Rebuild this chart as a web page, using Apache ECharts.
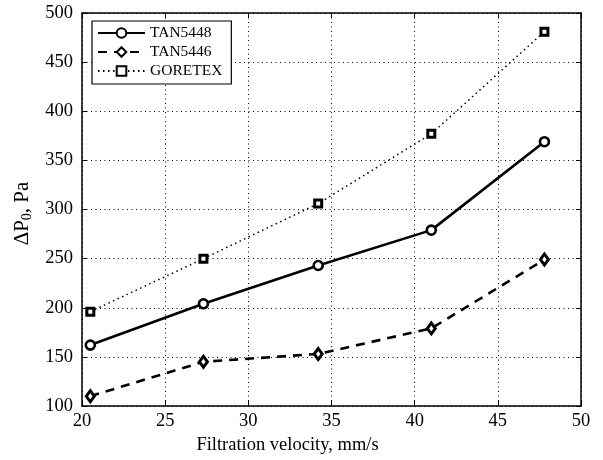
<!DOCTYPE html>
<html><head><meta charset="utf-8">
<script src="https://cdn.jsdelivr.net/npm/echarts@6/dist/echarts.min.js"></script>
<style>html,body{margin:0;padding:0;background:#fff}#c{width:603px;height:460px}</style>
</head><body><div id="c"></div>
<script>
const velocity = [20.5, 27.3, 34.2, 41.0, 47.8];
const tan5448 = [162, 204, 243, 279, 369];
const tan5446 = [110, 145, 153, 179, 249];
const goretex = [196, 250, 306, 377, 481];
const seriesNames = ['TAN5448', 'TAN5446', 'GORETEX'];

const font = 'Liberation Serif, Times New Roman, serif';
const pair = arr => velocity.map((v, i) => [v, arr[i]]);
const chart = echarts.init(document.getElementById('c'));
const axisCommon = {
  axisLine: {show: true, onZero: false, lineStyle: {color: '#000', width: 1.5}},
  axisTick: {show: true, inside: true, length: 5, lineStyle: {color: '#000'}},
};
chart.setOption({
  animation: false,
  backgroundColor: '#fff',
  grid: {left: 82, right: 22, top: 13, bottom: 54},
  legend: {
    left: 92, top: 21, orient: 'vertical',
    padding: [4, 9, 5, 5], itemGap: 3, itemWidth: 47, itemHeight: 12,
    borderColor: '#000', borderWidth: 1.2, backgroundColor: '#fff',
    textStyle: {fontFamily: font, fontSize: 15.5, color: '#000'},
    data: seriesNames
  },
  xAxis: [{
    type: 'value', min: 20, max: 50, interval: 5,
    ...axisCommon,
    axisLabel: {fontFamily: font, fontSize: 18.5, color: '#000', margin: 6},
    splitLine: {show: true, lineStyle: {color: '#000', type: [1, 3.5], width: 1}},
    name: 'Filtration velocity, mm/s', nameLocation: 'middle', nameGap: 30,
    nameTextStyle: {fontFamily: font, fontSize: 18.5, color: '#000', padding: [0, 88, 0, 0]}
  }, {
    type: 'value', min: 20, max: 50, interval: 5, position: 'top',
    ...axisCommon, axisLabel: {show: false}, splitLine: {show: false}
  }],
  yAxis: [{
    type: 'value', min: 100, max: 500, interval: 50,
    ...axisCommon,
    axisLabel: {fontFamily: font, fontSize: 18.5, color: '#000', margin: 9},
    splitLine: {show: true, lineStyle: {color: '#000', type: [1, 3.5], width: 1}},
    name: '{a|ΔP}{s|0}{a|, Pa}', nameLocation: 'middle', nameGap: 47, nameRotate: 90,
    nameTextStyle: {padding: [0, 8, 0, 0], rich: {
      a: {fontFamily: font, fontSize: 21, color: '#000'},
      s: {fontFamily: font, fontSize: 14, color: '#000', verticalAlign: 'bottom', padding: [10, 0, 0, 0]}
    }}
  }, {
    type: 'value', min: 100, max: 500, interval: 50, position: 'right',
    ...axisCommon, axisLabel: {show: false}, splitLine: {show: false}
  }],
  series: [{
    name: seriesNames[0], type: 'line', data: pair(tan5448),
    symbol: 'circle', symbolSize: 9,
    lineStyle: {color: '#000', width: 2.6, type: 'solid'},
    itemStyle: {color: '#fff', borderColor: '#000', borderWidth: 2.6}
  }, {
    name: seriesNames[1], type: 'line', data: pair(tan5446),
    symbol: 'diamond', symbolSize: [8, 11],
    lineStyle: {color: '#000', width: 2.6, type: [9, 7]},
    itemStyle: {color: '#fff', borderColor: '#000', borderWidth: 3}
  }, {
    name: seriesNames[2], type: 'line', data: pair(goretex),
    symbol: 'rect', symbolSize: 7,
    lineStyle: {color: '#000', width: 1.5, type: [1.5, 3.5]},
    itemStyle: {color: '#fff', borderColor: '#000', borderWidth: 3}
  }]
});
</script></body></html>
